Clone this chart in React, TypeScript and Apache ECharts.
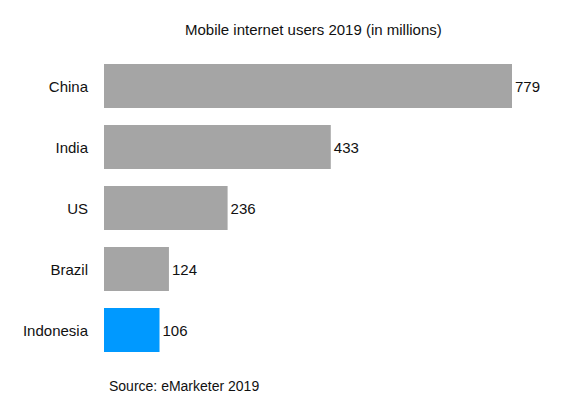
import React, { useEffect, useRef } from "react";
import * as echarts from "echarts";

const countries = ["China", "India", "US", "Brazil", "Indonesia"];
const users = [779, 433, 236, 124, 106];
const barColors = ["#a5a5a5", "#a5a5a5", "#a5a5a5", "#a5a5a5", "#0099ff"];
const titleText = "Mobile internet users 2019 (in millions)";
const sourceText = "Source: eMarketer 2019";

export default function App() {
  const ref = useRef<HTMLDivElement>(null);
  useEffect(() => {
    if (!ref.current) return;
    const chart = echarts.init(ref.current, null, { renderer: "svg" });
    const font = "'Liberation Sans', Arial, Helvetica, sans-serif";
    chart.setOption({
      animation: false,
      backgroundColor: "#ffffff",
      textStyle: { fontFamily: font },
      title: {
        text: titleText,
        left: 180,
        top: 17,
        textStyle: { fontSize: 15, fontWeight: "normal", color: "#111", fontFamily: font },
      },
      graphic: [
        {
          type: "text",
          left: 109,
          top: 379,
          style: { text: sourceText, fontSize: 14, fill: "#111", fontFamily: font },
        },
      ],
      grid: { left: 104, right: 68, top: 55.5, bottom: 56.5 },
      xAxis: {
        type: "value",
        min: 0,
        max: 779,
        show: false,
      },
      yAxis: {
        type: "category",
        data: countries,
        inverse: true,
        axisLine: { show: false },
        axisTick: { show: false },
        axisLabel: { margin: 16, fontSize: 15, color: "#111", fontFamily: font },
      },
      series: [
        {
          type: "bar",
          data: users.map((v, i) => ({ value: v, itemStyle: { color: barColors[i] } })),
          barWidth: 44,
          label: {
            show: true,
            position: "right",
            distance: 3,
            fontSize: 15,
            color: "#111",
            fontFamily: font,
          },
        },
      ],
    });
    return () => chart.dispose();
  }, []);
  return (
    <div
      ref={ref}
      style={{ position: "absolute", left: 0, top: 0, width: 580, height: 417 }}
    />
  );
}
